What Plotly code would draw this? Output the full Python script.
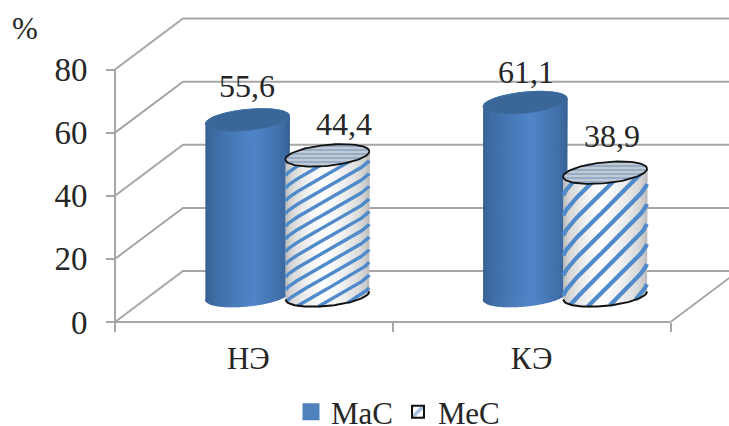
import numpy as np
import plotly.graph_objects as go

categories = ["НЭ", "КЭ"]
series_names = ["МаС", "МеС"]
mac_values = [55.6, 61.1]
mec_values = [44.4, 38.9]
value_labels_mac = ["55,6", "61,1"]
value_labels_mec = ["44,4", "38,9"]
y_ticks = [0, 20, 40, 60, 80]

W, H = 729, 426
X0_PX, X1_PX, Y0_PX, Y80_PX = 115, 670.5, 322, 69.5   # axis box inside the canvas
X_MIN, X_MAX, Y_MAX = -0.5, 1.5, 80
PX_X = (X1_PX - X0_PX) / (X_MAX - X_MIN)
PX_Y = (Y0_PX - Y80_PX) / Y_MAX
X_RANGE = [X_MIN - X0_PX / PX_X, X_MAX + (W - X1_PX) / PX_X]
Y_RANGE = [-(H - Y0_PX) / PX_Y, Y0_PX / PX_Y]
FONT = "Liberation Serif"
TXT = "#262626"
GREY = "#a6a6a6"

depth_x, depth_y = 68 / PX_X, 51 / PX_Y
lift = 26.5 / PX_Y
radius = 42 / PX_X
minor_b = 10.5 / PX_Y
shear = 4 / PX_Y
shift_mac, shift_mec = -0.0235, 0.2645


def ellipse(cx, cy, n=90):
    t = np.linspace(0, 2 * np.pi, n)
    return cx + radius * np.cos(t), cy + minor_b * np.sin(t) + shear * np.cos(t)


def upper_edge(cx, cy, x):
    u = np.clip((x - cx) / radius, -1, 1)
    return cy + minor_b * np.sqrt(1 - u * u) + shear * u


def lower_edge(cx, cy, x):
    u = np.clip((x - cx) / radius, -1, 1)
    return cy - minor_b * np.sqrt(1 - u * u) + shear * u


def mix(a, b, f):
    c = [round(a[i] + (b[i] - a[i]) * f) for i in range(3)]
    return f"rgb({c[0]},{c[1]},{c[2]})"


def shade(u, edge, mid, peak, power):
    if u < peak:
        return mix(edge, mid, ((u + 1) / (peak + 1)) ** power)
    return mix(edge, mid, ((1 - u) / (1 - peak)) ** power)


fig = go.Figure()

# real bars (sit behind the cylinder faces and carry the legend)
fig.add_bar(x=[i + shift_mac for i in range(2)], y=mac_values, base=lift, width=0.2,
            name=series_names[0], marker=dict(color="#4f81bd", line=dict(color="#4f81bd", width=5)))
fig.add_bar(x=[i + shift_mec for i in range(2)], y=mec_values, base=lift, width=0.2,
            name=series_names[1],
            marker=dict(color="white", line=dict(color="#111111", width=2),
                        pattern=dict(shape="/", fgcolor="#4f86c6", bgcolor="white",
                                     size=10, solidity=0.45)))


def line(xs, ys, color=GREY, width=2):
    fig.add_scatter(x=xs, y=ys, mode="lines", line=dict(color=color, width=width),
                    showlegend=False, hoverinfo="skip")


# walls and floor in perspective
for v in y_ticks:
    line([X_MIN, X_MIN + depth_x, X_MAX + depth_x], [v, v + depth_y, v + depth_y], GREY, 2)
line([X_MAX, X_MAX + depth_x], [0, depth_y], GREY, 2)
# axis lines
line([X_MIN, X_MIN], [0, Y_MAX], GREY, 2)
line([X_MIN, X_MAX], [0, 0], GREY, 2)


def body(cx, v, edge, mid, peak, power, n=42):
    top, bot = lift + v, lift
    xs = np.linspace(cx - radius, cx + radius, n + 1)
    for a, b in zip(xs[:-1], xs[1:]):
        m = (a + b) / 2
        col = shade((m - cx) / radius, edge, mid, peak, power)
        xx = np.linspace(a, b, 4)
        fig.add_scatter(x=np.r_[xx, xx[::-1]],
                        y=np.r_[upper_edge(cx, top, xx), lower_edge(cx, bot, xx)[::-1]],
                        mode="lines", fill="toself", fillcolor=col,
                        line=dict(color=col, width=1.2),
                        showlegend=False, hoverinfo="skip")


def stripes(cx, v, slope_px, spacing_px, phase_px, width):
    top, bot = lift + v, lift
    step = spacing_px / PX_Y
    xs = np.linspace(cx - radius * 0.995, cx + radius * 0.995, 220)
    u = (xs - cx) / radius
    wrap = 0.7 * u + 0.3 * np.arcsin(u) * 2 / np.pi * 1.6
    low = lower_edge(cx, bot, xs)
    up = upper_edge(cx, top, xs)
    px, py = [], []
    c0 = bot - 40 + phase_px / PX_Y
    for k in range(60):
        y = c0 + k * step + slope_px * 42 / PX_Y * wrap
        y2 = np.where((y > low) & (y < up), y, np.nan)
        px += list(xs) + [None]
        py += list(y2) + [None]
    fig.add_scatter(x=px, y=py, mode="lines", line=dict(color="#4f8bcb", width=width),
                    connectgaps=False, showlegend=False, hoverinfo="skip")


hatch_slope = [0.55, 0.95]
hatch_space = [12.7, 20]
hatch_phase = [6, 12]
hatch_width = [3.4, 4.2]
blue_edge, blue_mid = (52, 92, 142), (79, 133, 200)
white_edge, white_mid = (165, 165, 165), (255, 255, 255)

for i in range(2):
    # blue cylinder
    cx, v = i + shift_mac, mac_values[i]
    body(cx, v, blue_edge, blue_mid, 0.15, 0.6)
    ex, ey = ellipse(cx, lift + v)
    fig.add_scatter(x=ex, y=ey, mode="lines", fill="toself", fillcolor="#3a6797",
                    line=dict(color="#3f6ea3", width=1),
                    showlegend=False, hoverinfo="skip")

    # hatched cylinder
    cx, v = i + shift_mec, mec_values[i]
    body(cx, v, white_edge, white_mid, -0.1, 0.35)
    stripes(cx, v, hatch_slope[i], hatch_space[i], hatch_phase[i], hatch_width[i])
    xs = np.linspace(cx - radius, cx + radius, 80)
    line(xs, lower_edge(cx, lift, xs), "#111111", 2)
    ex, ey = ellipse(cx, lift + v)
    fig.add_scatter(x=ex, y=ey, mode="lines", fill="toself",
                    fillpattern=dict(shape="-", fgcolor="#5f8cc0", bgcolor="#c2c9d2",
                                     size=4, solidity=0.45),
                    line=dict(color="#111111", width=1.8),
                    showlegend=False, hoverinfo="skip")

# value labels
mac_label_dx, mac_label_dy = [0, 1], [34, 31]
mec_label_dx, mec_label_dy = [17, 7], [31, 37]
for i in range(2):
    for xc, val, txt, dx, dy in (
        (i + shift_mac, mac_values[i], value_labels_mac[i], mac_label_dx[i], mac_label_dy[i]),
        (i + shift_mec, mec_values[i], value_labels_mec[i], mec_label_dx[i], mec_label_dy[i]),
    ):
        fig.add_annotation(x=xc, y=lift + val, text=txt, showarrow=False, xshift=dx, yshift=dy,
                           font=dict(family=FONT, size=32, color=TXT))

fig.add_annotation(xref="paper", yref="paper", x=25 / W, y=1 - 28 / H, text="%", showarrow=False,
                   xanchor="center", yanchor="middle",
                   font=dict(family=FONT, size=31, color=TXT))

fig.update_layout(
    width=W, height=H, autosize=False,
    margin=dict(l=0, r=0, t=0, b=0, pad=0, autoexpand=False),
    paper_bgcolor="white", plot_bgcolor="white",
    barmode="overlay",
    showlegend=True,
    legend=dict(orientation="h", xref="paper", yref="paper",
                x=291 / W, xanchor="left", y=1 - 385 / H, yanchor="top",
                font=dict(family=FONT, size=31, color=TXT),
                bgcolor="rgba(0,0,0,0)", itemwidth=30, tracegroupgap=0),
    font=dict(family=FONT, size=31, color=TXT),
    xaxis=dict(range=X_RANGE, domain=[0, 1], anchor="free", position=1 - Y0_PX / H,
               tickmode="array", tickvals=[-0.02, 1.0], ticktext=categories,
               showgrid=False, zeroline=False, showline=False,
               ticks="", ticklabelstandoff=15, automargin=False,
               tickfont=dict(family=FONT, size=31, color=TXT),
               minor=dict(tickmode="array", tickvals=[X_MIN, 0.5, X_MAX], ticks="outside",
                          ticklen=9, tickwidth=2, tickcolor=GREY, showgrid=False)),
    yaxis=dict(range=Y_RANGE, domain=[0, 1], anchor="free", position=X0_PX / W,
               tickmode="array", tickvals=y_ticks,
               ticktext=[str(t) for t in y_ticks], automargin=False,
               showgrid=False, zeroline=False, showline=False,
               ticks="outside", ticklen=9, tickwidth=2, tickcolor=GREY, ticklabelstandoff=12,
               tickfont=dict(family=FONT, size=33, color=TXT)),
)

fig.write_html("out.html", post_script="document.body.style.margin='0';",
               config={"displayModeBar": False})
